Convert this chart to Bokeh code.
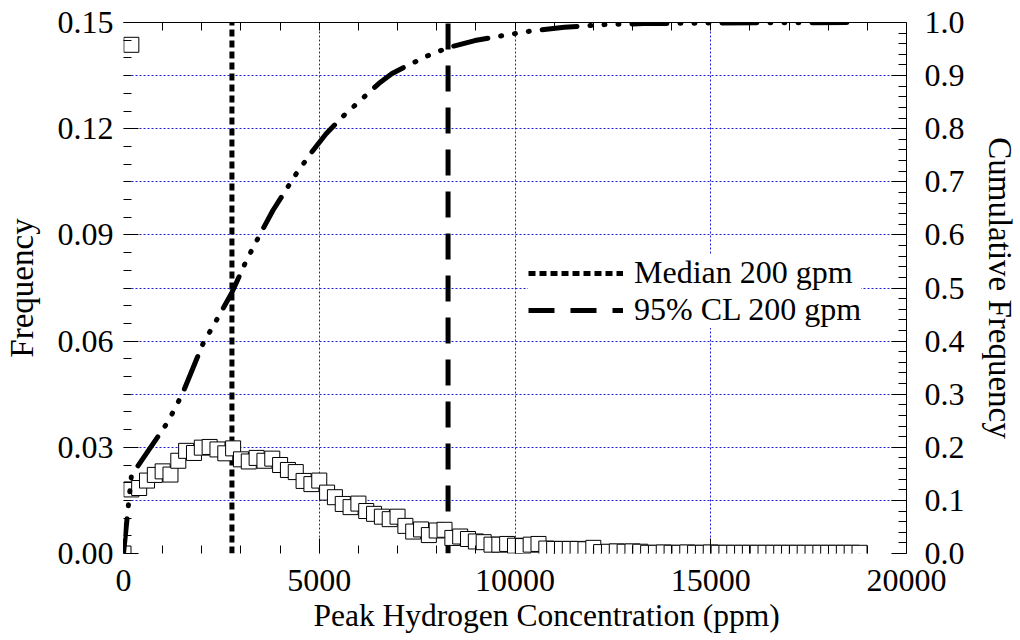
from bokeh.plotting import figure
from bokeh.models import (Range1d, LinearAxis, FixedTicker, PrintfTickFormatter,
                          Legend, LegendItem, Title)
from bokeh.embed import file_html
from bokeh.resources import INLINE

FONT = "Liberation Serif"
TICK_FS = "32px"
LABEL_FS = "33px"
XLABEL_FS = "31.5px"
LEGEND_FS = "32px"

# ---------------- data ----------------
freq_x = [0, 200, 400, 600, 800, 1000, 1200, 1400, 1600, 1800,
          2000, 2200, 2400, 2600, 2800, 3000, 3200, 3400, 3600, 3800,
          4000, 4200, 4400, 4600, 4800, 5000, 5200, 5400, 5600, 5800,
          6000, 6200, 6400, 6600, 6800, 7000, 7200, 7400, 7600, 7800,
          8000, 8200, 8400, 8600, 8800, 9000, 9200, 9400, 9600, 9800,
          10000, 10200, 10400, 10600, 10800, 11000, 11200, 11400, 11600, 11800,
          12000, 12200, 12400, 12600, 12800, 13000, 13200, 13400, 13600, 13800,
          14000, 14200, 14400, 14600, 14800, 15000, 15200, 15400, 15600, 15800,
          16000, 16200, 16400, 16600, 16800, 17000, 17200, 17400, 17600, 17800,
          18000, 18200, 18400, 18600, 18800]
freq_y = [0.0, 0.0181, 0.0185, 0.0206, 0.0222, 0.0232, 0.0223, 0.0262, 0.0290, 0.0284,
          0.0299, 0.0301, 0.0294, 0.0283, 0.0297, 0.0266, 0.0260, 0.0270, 0.0262, 0.0268,
          0.0250, 0.0236, 0.0230, 0.0205, 0.0196, 0.0206, 0.0172, 0.0159, 0.0140, 0.0131,
          0.0141, 0.0120, 0.0112, 0.0104, 0.0097, 0.0104, 0.0078, 0.0062, 0.0068, 0.0052,
          0.0065, 0.0067, 0.0044, 0.0048, 0.0041, 0.0034, 0.0032, 0.0025, 0.0025, 0.0027,
          0.0022, 0.0021, 0.0025, 0.0027, 0.0014, 0.0013, 0.0013, 0.0013, 0.0013, 0.0012,
          0.0016, 0.0004, 0.0005, 0.0006, 0.0005, 0.0006, 0.0005, 0.0002, 0.0002, 0.0003,
          0.0002, 0.0002, 0.0003, 0.0002, 0.0002, 0.0003, 0.0002, 0.0002, 0.0002, 0.0002,
          0.0002, 0.0002, 0.0002, 0.0002, 0.0002, 0.0002, 0.0002, 0.0002, 0.0002, 0.0002,
          0.0002, 0.0002, 0.0002, 0.0002, 0.0002]

first_bin_x = [200]
first_bin_y = [0.1437]

cum_x = [0, 200, 350, 600, 1000, 1150, 1500, 2030, 2380, 2760, 3140, 3480, 3815,
         4410, 4800, 5170, 5630, 6000, 6520, 6860, 7200, 7790, 8300, 8975, 9740,
         10500, 11260, 12280, 13290, 15000, 18700]
cum_y = [0.0, 0.145, 0.163, 0.19, 0.233, 0.25, 0.30, 0.395, 0.44, 0.49, 0.552, 0.60, 0.646,
         0.715, 0.755, 0.79, 0.825, 0.85, 0.885, 0.904, 0.917, 0.938, 0.953, 0.966, 0.976,
         0.985, 0.991, 0.996, 0.998, 0.999, 1.0]

median_x = [2770, 2770]
cl95_x = [8290, 8290]
vline_y = [0.0, 1.0]

x_title = "Peak Hydrogen Concentration (ppm)"
x_ticks = [0, 5000, 10000, 15000, 20000]
x_minor = [1000, 2000, 3000, 4000, 6000, 7000, 8000, 9000, 11000, 12000, 13000,
           14000, 16000, 17000, 18000, 19000]
top_ticks = [1000, 2000, 3000, 4000, 5000, 6000, 7000, 8000, 9000, 10000, 11000,
             12000, 13000, 14000, 15000, 16000, 17000, 18000, 19000]
left_ticks = [0.0, 0.03, 0.06, 0.09, 0.12, 0.15]
left_minor = [0.005, 0.01, 0.015, 0.02, 0.025, 0.035, 0.04, 0.045, 0.05, 0.055,
              0.065, 0.07, 0.075, 0.08, 0.085, 0.095, 0.1, 0.105, 0.11, 0.115,
              0.125, 0.13, 0.135, 0.14, 0.145]
right_ticks = [0.0, 0.1, 0.2, 0.3, 0.4, 0.5, 0.6, 0.7, 0.8, 0.9, 1.0]
right_minor = [0.02, 0.04, 0.06, 0.08, 0.12, 0.14, 0.16, 0.18, 0.22, 0.24, 0.26, 0.28,
               0.32, 0.34, 0.36, 0.38, 0.42, 0.44, 0.46, 0.48, 0.52, 0.54, 0.56, 0.58,
               0.62, 0.64, 0.66, 0.68, 0.72, 0.74, 0.76, 0.78, 0.82, 0.84, 0.86, 0.88,
               0.92, 0.94, 0.96, 0.98]
xgrid_ticks = [0, 5000, 10000, 15000]
ygrid_ticks = [0.0, 0.015, 0.03, 0.045, 0.06, 0.075, 0.09, 0.105, 0.12, 0.135]

# ---------------- figure ----------------
p = figure(width=1020, height=640, output_backend="svg", toolbar_location=None,
           x_range=Range1d(0, 20000), y_range=Range1d(0, 0.15),
           min_border_left=123, min_border_right=109, min_border_top=22,
           min_border_bottom=87)
p.extra_y_ranges = {"cum": Range1d(0, 1)}
p.outline_line_color = None
p.background_fill_color = "white"
p.border_fill_color = "white"

GRID_COLOR = "#1f1fd8"
p.xgrid.ticker = FixedTicker(ticks=xgrid_ticks)
p.ygrid.ticker = FixedTicker(ticks=ygrid_ticks)
for g in (p.xgrid, p.ygrid):
    g.grid_line_color = GRID_COLOR
    g.grid_line_width = 1
    g.grid_line_dash = "2 2"


def style_axis(ax, show_line=True):
    ax.major_tick_in = 15
    ax.major_tick_out = 0
    ax.minor_tick_in = 8
    ax.minor_tick_out = 0
    ax.major_tick_line_color = "black"
    ax.minor_tick_line_color = "black"
    ax.major_tick_line_width = 1
    ax.minor_tick_line_width = 1
    ax.axis_line_color = "black" if show_line else None
    ax.major_label_text_font = FONT
    ax.major_label_text_font_size = TICK_FS
    ax.major_label_text_color = "black"
    ax.axis_label_text_font = FONT
    ax.axis_label_text_font_size = LABEL_FS
    ax.axis_label_text_font_style = "normal"
    ax.axis_label_text_color = "black"


# bottom axis
xa = p.xaxis[0]
xa.ticker = FixedTicker(ticks=x_ticks, minor_ticks=x_minor)
xa.formatter = PrintfTickFormatter(format="%d")
style_axis(xa, show_line=False)
xa.major_label_standoff = 16

# left axis
ya = p.yaxis[0]
ya.ticker = FixedTicker(ticks=left_ticks, minor_ticks=left_minor)
ya.formatter = PrintfTickFormatter(format="%.2f")
ya.axis_label = "Frequency"
style_axis(ya, show_line=False)
ya.major_label_standoff = 10
ya.axis_label_standoff = 15

# right axis
ra = LinearAxis(y_range_name="cum",
                ticker=FixedTicker(ticks=right_ticks, minor_ticks=right_minor),
                formatter=PrintfTickFormatter(format="%.1f"),
                axis_label="Cumulative Frequency")
style_axis(ra)
ra.major_label_standoff = 18
ra.axis_label_standoff = 14
p.add_layout(ra, "right")

# top axis: ticks only (no major ticks, hence no labels)
ta = LinearAxis(ticker=FixedTicker(ticks=[], minor_ticks=top_ticks))
style_axis(ta)
ta.major_label_standoff = 0
p.add_layout(ta, "above")

# x-axis title, a little right of centre as in the reference
p.add_layout(Title(text=x_title, align="left", offset=190, standoff=4,
                   text_font=FONT, text_font_size=XLABEL_FS,
                   text_font_style="normal", text_color="black"), "below")

# ---------------- glyphs ----------------
r_med = p.line(median_x, vline_y, y_range_name="cum", line_color="black",
               line_width=5, line_dash="7 4")
r_cl = p.line(cl95_x, vline_y, y_range_name="cum", line_color="black",
              line_width=5, line_dash="26 16")

p.scatter(freq_x, freq_y, marker="square", size=15, fill_color="white",
          line_color="black", line_width=1)
p.scatter(first_bin_x, first_bin_y, marker="square", size=15, fill_color="white",
          line_color="black", line_width=1)

p.line(cum_x, cum_y, y_range_name="cum", line_color="black", line_width=5,
       line_dash="35 13 1 13 1 13 1 13", line_cap="round", line_join="round")

legend = Legend(items=[LegendItem(label="Median 200 gpm", renderers=[r_med]),
                       LegendItem(label="95% CL 200 gpm", renderers=[r_cl])],
                location=(405, 225), glyph_width=95, glyph_height=30,
                label_height=30, label_standoff=11, padding=5, spacing=-2, margin=0,
                border_line_color=None, background_fill_color="white",
                background_fill_alpha=1.0, label_text_font=FONT,
                label_text_font_size=LEGEND_FS, label_text_color="black")
p.add_layout(legend)

open("out.html", "w").write(file_html(p, INLINE))
